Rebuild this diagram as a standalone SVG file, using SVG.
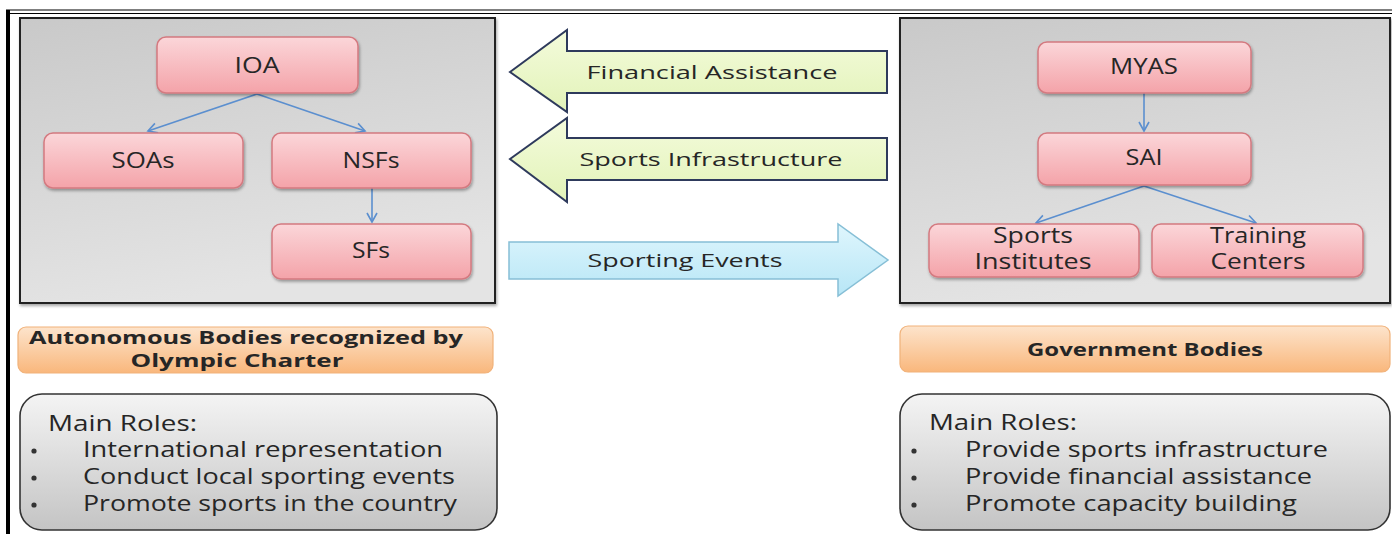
<svg xmlns="http://www.w3.org/2000/svg" width="1392" height="534" viewBox="0 0 1392 534">
<style>
text{font-family:"Open Sans","Noto Sans",sans-serif;fill:#262626}
.n{font-size:21px;text-anchor:middle}
.pink{fill:url(#gPink);stroke:#d47a80;stroke-width:1.5;filter:url(#sh)}
.panel{fill:url(#gPanel);stroke:#222;stroke-width:2;filter:url(#sh)}
.lab{fill:url(#gOr);stroke:#f1b27a;stroke-width:1.2}
.roles{fill:url(#gRole);stroke:#333;stroke-width:1.6}
.lb{font-size:17px;font-weight:bold;text-anchor:middle}
.rt{font-size:21px}
.ar{font-size:19px;text-anchor:middle}
.con{stroke:#5b8fcf;stroke-width:1.6;fill:none;marker-end:url(#m)}
.gr{fill:url(#gGreen);stroke:#2e3a5c;stroke-width:2}
.bl{fill:url(#gBlue);stroke:#86bfd6;stroke-width:1.5}
.dot{fill:#333}
</style>
<defs>
<linearGradient id="gPink" x1="0" y1="0" x2="0" y2="1"><stop offset="0" stop-color="#fbd6d9"/><stop offset="1" stop-color="#f4a3a9"/></linearGradient>
<linearGradient id="gPanel" x1="0" y1="0" x2="0.3" y2="1"><stop offset="0" stop-color="#c9c9c9"/><stop offset="1" stop-color="#e4e4e4"/></linearGradient>
<linearGradient id="gOr" x1="0" y1="0" x2="0" y2="1"><stop offset="0" stop-color="#fde4cc"/><stop offset="1" stop-color="#f9b77c"/></linearGradient>
<linearGradient id="gRole" x1="0" y1="0" x2="0" y2="1"><stop offset="0" stop-color="#f4f4f4"/><stop offset="1" stop-color="#c4c4c4"/></linearGradient>
<linearGradient id="gGreen" x1="0" y1="0" x2="0" y2="1"><stop offset="0" stop-color="#f4fbdc"/><stop offset="1" stop-color="#e2f3b8"/></linearGradient>
<linearGradient id="gBlue" x1="0" y1="0" x2="0" y2="1"><stop offset="0" stop-color="#dff6fd"/><stop offset="1" stop-color="#b7e6f6"/></linearGradient>
<filter id="sh" x="-5%" y="-5%" width="112%" height="120%"><feDropShadow dx="1" dy="2" stdDeviation="1.5" flood-color="#000" flood-opacity="0.35"/></filter>
<marker id="m" markerWidth="12" markerHeight="12" refX="10" refY="6" orient="auto" markerUnits="userSpaceOnUse"><path d="M1,1 L10,6 L1,11" fill="none" stroke="#5b8fcf" stroke-width="1.6"/></marker>
</defs>
<rect width="1392" height="534" fill="#fff"/>
<g id="frame" stroke="#000" fill="none">
<line x1="6" y1="10" x2="1392" y2="10" stroke-width="1.2"/>
<line x1="6" y1="13.5" x2="1392" y2="13.5" stroke-width="1.2"/>
<line x1="8" y1="10" x2="8" y2="534" stroke-width="4"/>
</g>
<g id="leftPanel"><rect class="panel" x="20" y="18" width="475" height="285"/></g>
<g id="rightPanel"><rect class="panel" x="900" y="18" width="490" height="285"/></g>
<g id="connectors">
<path class="con" d="M257,94 L148,131"/>
<path class="con" d="M257,94 L365,131"/>
<path class="con" d="M372,188 L372,222"/>
<path class="con" d="M1144,93 L1144,131"/>
<path class="con" d="M1144,186 L1036,223"/>
<path class="con" d="M1144,186 L1256,223"/>
</g>
<g id="IOA"><rect class="pink" x="157" y="37" width="201" height="56" rx="9"/><text class="n" x="257" y="73" textLength="45" lengthAdjust="spacingAndGlyphs">IOA</text></g>
<g id="SOAs"><rect class="pink" x="44" y="133" width="199" height="55" rx="9"/><text class="n" x="143" y="168" textLength="63" lengthAdjust="spacingAndGlyphs">SOAs</text></g>
<g id="NSFs"><rect class="pink" x="272" y="133" width="199" height="55" rx="9"/><text class="n" x="371" y="168" textLength="57" lengthAdjust="spacingAndGlyphs">NSFs</text></g>
<g id="SFs"><rect class="pink" x="272" y="224" width="199" height="55" rx="9"/><text class="n" x="371" y="258" textLength="38" lengthAdjust="spacingAndGlyphs">SFs</text></g>
<g id="MYAS"><rect class="pink" x="1038" y="42" width="213" height="51" rx="9"/><text class="n" x="1144" y="74" textLength="68" lengthAdjust="spacingAndGlyphs">MYAS</text></g>
<g id="SAI"><rect class="pink" x="1038" y="133" width="213" height="52" rx="9"/><text class="n" x="1144" y="165" textLength="37" lengthAdjust="spacingAndGlyphs">SAI</text></g>
<g id="SportsInstitutes"><rect class="pink" x="929" y="224" width="210" height="53" rx="9"/><text class="n" x="1033" y="243" textLength="80" lengthAdjust="spacingAndGlyphs">Sports</text><text class="n" x="1033" y="269" textLength="117" lengthAdjust="spacingAndGlyphs">Institutes</text></g>
<g id="TrainingCenters"><rect class="pink" x="1152" y="224" width="211" height="53" rx="9"/><text class="n" x="1258" y="243" textLength="96" lengthAdjust="spacingAndGlyphs">Training</text><text class="n" x="1258" y="269" textLength="95" lengthAdjust="spacingAndGlyphs">Centers</text></g>
<g id="FinancialAssistance"><path class="gr" d="M510,72 L567,30 L567,51 L887,51 L887,93 L567,93 L567,112 Z"/><text class="ar" x="712" y="79" textLength="251" lengthAdjust="spacingAndGlyphs">Financial Assistance</text></g>
<g id="SportsInfrastructure"><path class="gr" d="M510,159 L567,118 L567,138 L887,138 L887,180 L567,180 L567,202 Z"/><text class="ar" x="711" y="166" textLength="263" lengthAdjust="spacingAndGlyphs">Sports Infrastructure</text></g>
<g id="SportingEvents"><path class="bl" d="M509,242 L838,242 L838,224 L888,260 L838,296 L838,279 L509,279 Z"/><text class="ar" x="685" y="267" textLength="195" lengthAdjust="spacingAndGlyphs">Sporting Events</text></g>
<g id="autonomousLabel"><rect class="lab" x="18" y="327" width="475" height="46" rx="8"/><text class="lb" x="246" y="344" textLength="434" lengthAdjust="spacingAndGlyphs">Autonomous Bodies recognized by</text><text class="lb" x="237" y="367" textLength="213" lengthAdjust="spacingAndGlyphs">Olympic Charter</text></g>
<g id="governmentLabel"><rect class="lab" x="900" y="326" width="490" height="46" rx="8"/><text class="lb" x="1145" y="356" textLength="236" lengthAdjust="spacingAndGlyphs">Government Bodies</text></g>
<g id="leftRoles"><rect class="roles" x="20" y="394" width="477" height="136" rx="22"/>
<text class="rt" x="48" y="431" textLength="149" lengthAdjust="spacingAndGlyphs">Main Roles:</text>
<circle class="dot" cx="34" cy="451" r="2.6"/><text class="rt" x="83" y="457" textLength="360" lengthAdjust="spacingAndGlyphs">International representation</text>
<circle class="dot" cx="34" cy="478" r="2.6"/><text class="rt" x="83" y="484" textLength="372" lengthAdjust="spacingAndGlyphs">Conduct local sporting events</text>
<circle class="dot" cx="34" cy="505" r="2.6"/><text class="rt" x="83" y="511" textLength="374" lengthAdjust="spacingAndGlyphs">Promote sports in the country</text>
</g>
<g id="rightRoles"><rect class="roles" x="900" y="394" width="490" height="136" rx="22"/>
<text class="rt" x="929" y="430" textLength="148" lengthAdjust="spacingAndGlyphs">Main Roles:</text>
<circle class="dot" cx="914" cy="451" r="2.6"/><text class="rt" x="965" y="457" textLength="363" lengthAdjust="spacingAndGlyphs">Provide sports infrastructure</text>
<circle class="dot" cx="914" cy="478" r="2.6"/><text class="rt" x="965" y="484" textLength="347" lengthAdjust="spacingAndGlyphs">Provide financial assistance</text>
<circle class="dot" cx="914" cy="505" r="2.6"/><text class="rt" x="965" y="511" textLength="332" lengthAdjust="spacingAndGlyphs">Promote capacity building</text>
</g>
</svg>
